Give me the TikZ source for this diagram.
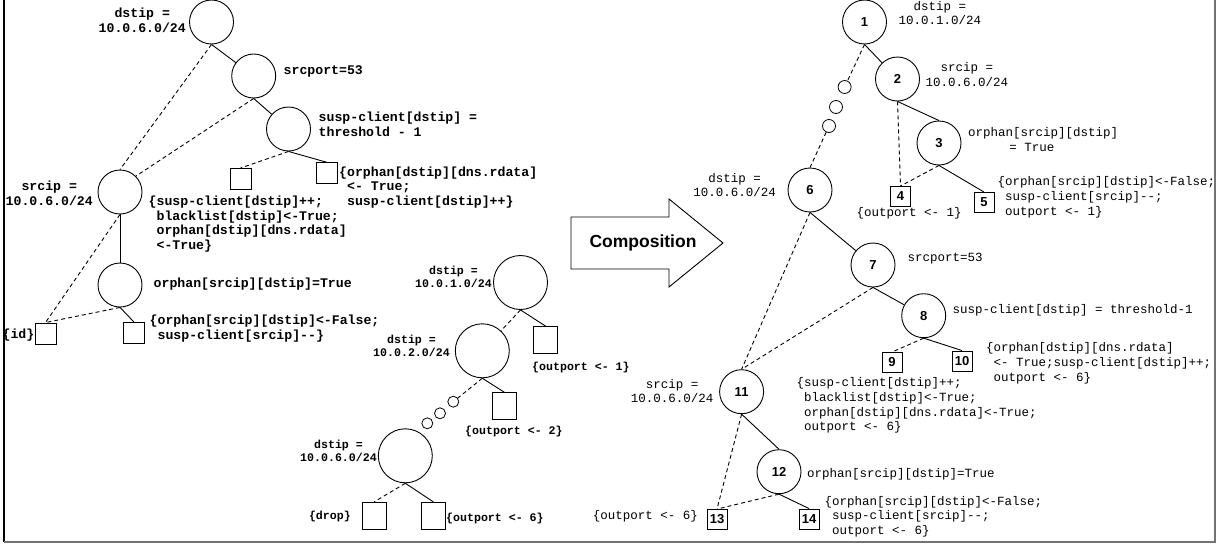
\documentclass[tikz,border=0pt]{standalone}
\usepackage{fontspec}
\setmonofont{Liberation Mono}
\setsansfont{Liberation Sans}
\usetikzlibrary{positioning}
\newcommand{\indsp}{\hspace*{0.6em}}
\tikzset{
    tree-node/.style = {draw, circle, inner sep=0pt, minimum size=44pt, line width=0.9pt},
    big-node/.style = {tree-node, minimum size=54pt},
    tree-leaf/.style = {draw, rectangle, inner sep=0pt, minimum width=20pt, minimum height=20pt, line width=0.9pt},
    big-leaf/.style = {tree-leaf, minimum width=24pt, minimum height=27pt},
    gap-dot/.style = {draw, circle, inner sep=0pt, minimum size=13pt, line width=0.8pt},
    num/.style = {font=\sffamily\bfseries\fontsize{13}{13}\selectfont},
    left-text/.style = {inner sep=0pt, align=left, font=\ttfamily\bfseries\fontsize{13.2}{14.8}\selectfont},
    mid-text/.style = {inner sep=0pt, align=left, font=\ttfamily\bfseries\fontsize{11.6}{13}\selectfont},
    right-text/.style = {inner sep=0pt, align=left, font=\ttfamily\fontsize{12.5}{14.8}\selectfont},
    yes-edge/.style = {line width=0.9pt},
    no-edge/.style = {line width=0.9pt, dash pattern=on 4pt off 3pt},
}

\begin{document}
\begin{tikzpicture}[x=1pt, y=-1pt]
\useasboundingbox (0,0) rectangle (1222,546);
% frame
\draw[line width=1.2pt] (4,0) -- (4,542);
\draw[black!55, line width=1.2pt] (4,542) -- (1215,542) -- (1215,0);

% first policy
\node[tree-node] (L1) at (211.5,22) {};
\node[tree-node] (L2) at (253.7,76) {};
\node[tree-node] (L3) at (288.5,129) {};
\node[tree-leaf, minimum size=21pt] (L3a) at (240.5,179) {};
\node[tree-leaf, minimum size=21pt] (L3b) at (327,173.3) {};
\node[tree-node] (L4) at (120,192) {};
\node[tree-node] (L5) at (120,285) {};
\node[tree-leaf, minimum size=21pt] (L5a) at (45.5,333.5) {};
\node[tree-leaf, minimum size=21pt] (L5b) at (134,333) {};

\node[left-text, align=center, anchor=east] at (186,20.5) {dstip =\\10.0.6.0/24};
\node[left-text, anchor=west] at (283.5,71) {srcport=53};
\node[left-text, anchor=west] at (318.5,124.5) {susp-client[dstip] =\\threshold - 1};
\node[left-text, anchor=west] at (339,187.5) {\{orphan[dstip][dns.rdata]\\\indsp<- True;\\\indsp susp-client[dstip]++\}};
\node[left-text, align=center, anchor=east] at (93,193) {srcip =\\10.0.6.0/24};
\node[left-text, anchor=west] at (148.5,224) {\{susp-client[dstip]++;\\\indsp blacklist[dstip]<-True;\\\indsp orphan[dstip][dns.rdata]\\\indsp<-True\}};
\node[left-text, anchor=west] at (153.5,284) {orphan[srcip][dstip]=True};
\node[left-text, anchor=east] at (34.5,335) {\{id\}};
\node[left-text, anchor=west] at (149.5,328.5) {\{orphan[srcip][dstip]<-False;\\\indsp susp-client[srcip]-{}-\}};

\draw[yes-edge] (L1.south) -- (L2);
\draw[no-edge] (L1.south) -- (L4.north);
\draw[yes-edge] (L2.south) -- (L3);
\draw[no-edge] (L2.south) -- (L4.north east);
\draw[no-edge] (L3.south) -- (L3a.north);
\draw[yes-edge] (L3.south) -- (L3b.north);
\draw[yes-edge] (L4.south) -- (L5.north);
\draw[no-edge] (L4.south) -- (L5a.north);
\draw[no-edge] (L5.south) -- (L5a.north);
\draw[yes-edge] (L5.south) -- (L5b.north);

% second policy
\node[big-node] (M1) at (520.5,282.5) {};
\node[big-node] (M2) at (482.3,350.8) {};
\node[big-node] (M3) at (405.3,455.8) {};
\node[big-leaf] (M1a) at (545.5,340) {};
\node[big-leaf] (M2a) at (504.5,406.3) {};
\node[big-leaf] (M3a) at (374.2,515.8) {};
\node[big-leaf] (M3b) at (433.3,515.8) {};
\node[gap-dot, minimum size=11pt] (md1) at (453.3,401.7) {};
\node[gap-dot, minimum size=11pt] (md2) at (440,413.3) {};
\node[gap-dot, minimum size=11pt] (md3) at (427.3,423.3) {};

\node[mid-text, align=center, anchor=east] at (492,276.5) {dstip =\\10.0.1.0/24};
\node[mid-text, anchor=west] at (532,367) {\{outport <- 1\}};
\node[mid-text, align=center, anchor=east] at (450,346.3) {dstip =\\10.0.2.0/24};
\node[mid-text, anchor=west] at (465,431.7) {\{outport <- 2\}};
\node[mid-text, align=center, anchor=east] at (377,451) {dstip =\\10.0.6.0/24};
\node[mid-text, anchor=east] at (351,516.7) {\{drop\}};
\node[mid-text, anchor=west] at (446,518.3) {\{outport <- 6\}};

\draw[no-edge] (M1.south) -- (M2);
\draw[yes-edge] (M1.south) -- (M1a.north);
\draw[no-edge] (M2.south) -- (md1);
\draw[yes-edge] (M2.south) -- (M2a.north);
\draw[no-edge] (M3.south) -- (M3a.north);
\draw[yes-edge] (M3.south) -- (M3b.north);

% arrow
\draw[line width=0.9pt] (571,217) -- (669,217) -- (669,199) -- (723,243) -- (669,287) -- (669,269) -- (571,269) -- cycle;
\node[font=\sffamily\bfseries\fontsize{17.5}{17.5}\selectfont] (comp) at (643,243) {Composition};

% composed policy
\node[tree-node, num] (n1) at (864.5,22) {1};
\node[tree-node, num] (n2) at (897.5,79) {2};
\node[tree-node, num] (n3) at (939,143) {3};
\node[tree-leaf, num] (n4) at (900.5,196.5) {4};
\node[tree-leaf, num] (n5) at (984,202.5) {5};
\node[tree-node, num] (n6) at (810,190) {6};
\node[tree-node, num] (n7) at (873,265) {7};
\node[tree-node, num] (n8) at (923.7,315.7) {8};
\node[tree-leaf, num] (n9) at (892,362.5) {9};
\node[tree-leaf, num] (n10) at (962,361) {10};
\node[tree-node, num] (n11) at (741.6,391.7) {11};
\node[tree-node, num] (n12) at (779,471.7) {12};
\node[tree-leaf, num] (n13) at (717,519.5) {13};
\node[tree-leaf, num] (n14) at (809,519) {14};
\node[gap-dot] (rd1) at (844.6,87) {};
\node[gap-dot] (rd2) at (836,107) {};
\node[gap-dot] (rd3) at (829,126) {};

\node[right-text, align=center, anchor=west] at (898.5,13) {dstip =\\10.0.1.0/24};
\node[right-text, align=center, anchor=west] at (925.5,74.5) {srcip =\\10.0.6.0/24};
\node[right-text, anchor=west] at (968,139.5) {orphan[srcip][dstip]\\\hspace*{3.3em}= True};
\node[right-text, anchor=west] at (856.5,213) {\{outport <- 1\}};
\node[right-text, anchor=west] at (997.5,197.5) {\{orphan[srcip][dstip]<-False;\\\indsp susp-client[srcip]-{}-;\\\indsp outport <- 1\}};
\node[right-text, align=center, anchor=east] at (776,185) {dstip =\\10.0.6.0/24};
\node[right-text, anchor=west] at (907.5,259) {srcport=53};
\node[right-text, anchor=west] at (952.5,310.7) {susp-client[dstip] = threshold-1};
\node[right-text, anchor=west] at (986,363.5) {\{orphan[dstip][dns.rdata]\\\indsp<- True;susp-client[dstip]++;\\\indsp outport <- 6\}};
\node[right-text, align=center, anchor=east] at (713.5,391) {srcip =\\10.0.6.0/24};
\node[right-text, anchor=west] at (796.5,405.5) {\{susp-client[dstip]++;\\\indsp blacklist[dstip]<-True;\\\indsp orphan[dstip][dns.rdata]<-True;\\\indsp outport <- 6\}};
\node[right-text, anchor=west] at (807,474) {orphan[srcip][dstip]=True};
\node[right-text, anchor=east] at (698,516.7) {\{outport <- 6\}};
\node[right-text, anchor=west] at (824.5,516.7) {\{orphan[srcip][dstip]<-False;\\\indsp susp-client[srcip]-{}-;\\\indsp outport <- 6\}};

\draw[yes-edge] (n1.south) -- (n2);
\draw[no-edge] (n1.south) -- (rd1);
\draw[no-edge] (rd3) -- (n6.north);
\draw[yes-edge] (n2.south) -- (n3.north);
\draw[no-edge] (n2.south) -- (n4.north);
\draw[no-edge] (n3.south) -- (n4.north);
\draw[yes-edge] (n3.south) -- (n5.north);
\draw[yes-edge] (n6.south) -- (n7);
\draw[no-edge] (n6.south) -- (n11.north);
\draw[yes-edge] (n7.south) -- (n8);
\draw[no-edge] (n7.south) -- (n11.north);
\draw[no-edge] (n8.south) -- (n9.north);
\draw[yes-edge] (n8.south) -- (n10.north);
\draw[yes-edge] (n11.south) -- (n12.north);
\draw[no-edge] (n11.south) -- (n13.north);
\draw[no-edge] (n12.south) -- (n13.north);
\draw[yes-edge] (n12.south) -- (n14.north);
\end{tikzpicture}
\end{document}
